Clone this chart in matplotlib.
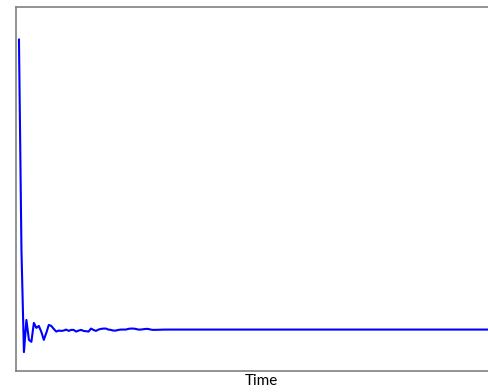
import matplotlib
matplotlib.use("Agg")
import matplotlib.pyplot as plt

# damped response
time = [1, 2, 3, 4, 5, 6, 7, 8, 9, 10,
        11, 12, 13, 14, 15, 16, 17, 18, 19, 20,
        21, 22, 23, 24, 25, 26, 27, 28, 29, 30,
        31, 32, 33, 34, 35, 36, 37, 38, 39, 40,
        41, 42, 43, 44, 45, 46, 47, 48, 49, 50,
        51, 52, 53, 54, 55, 60, 70, 80, 90, 100,
        110, 120, 130, 140, 150, 160, 170, 180, 190, 197]
response = [1.000, 0.365, 0.057, 0.154, 0.094, 0.088, 0.145, 0.130, 0.136, 0.118,
            0.094, 0.115, 0.139, 0.136, 0.127, 0.119, 0.122, 0.121, 0.122, 0.125,
            0.121, 0.124, 0.124, 0.119, 0.122, 0.124, 0.121, 0.120, 0.119, 0.128,
            0.124, 0.121, 0.125, 0.127, 0.128, 0.128, 0.125, 0.124, 0.122, 0.122,
            0.124, 0.125, 0.125, 0.125, 0.127, 0.128, 0.128, 0.127, 0.125, 0.125,
            0.126, 0.127, 0.127, 0.125, 0.124, 0.125, 0.125, 0.125, 0.125, 0.125,
            0.125, 0.125, 0.125, 0.125, 0.125, 0.125, 0.125, 0.125, 0.125, 0.125]

fig = plt.figure(figsize=(4.89, 3.92), dpi=100)
ax = fig.add_axes([0.0337, 0.0536, 1.001, 0.9298])

ax.plot(time, response, color="#0000ff", lw=1.5)

ax.set_xlim(0, 197)
ax.set_ylim(0, 1.1)
ax.set_xticks([])
ax.set_yticks([])
for side in ["left", "top", "bottom"]:
    ax.spines[side].set_color("#808080")
    ax.spines[side].set_linewidth(1.2)
ax.spines["right"].set_visible(False)

ax.set_xlabel("Time", fontsize=11, family="Lato", labelpad=2)

fig.savefig("out.png", dpi=100)
